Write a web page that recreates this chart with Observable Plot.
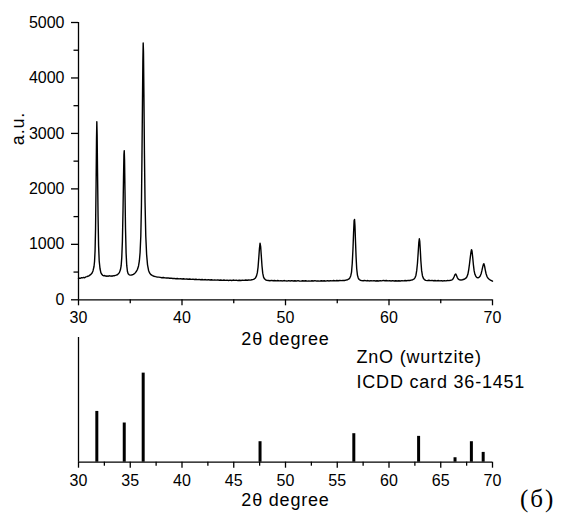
<!DOCTYPE html>
<html><head><meta charset="utf-8">
<script src="https://cdn.jsdelivr.net/npm/d3@7"></script>
<script src="https://cdn.jsdelivr.net/npm/@observablehq/plot@0.6"></script>
<style>
body{margin:0;background:#fff;}
#wrap{position:relative;width:564px;height:517px;font-family:"Liberation Sans",Arial,sans-serif;}
#top,#bottom{position:absolute;left:0;}
#top{top:0}
#bottom{top:320px}
#tag{position:absolute;left:520px;top:486px;font-family:"Liberation Serif","Times New Roman",serif;font-size:25px;letter-spacing:2px;color:#000;line-height:1;}
</style></head>
<body><div id="wrap"><div id="top"></div><div id="bottom"></div><div id="tag">(б)</div></div>
<script>
// Measured XRD pattern (2θ, counts)
const angles = [
30.0,30.1,30.2,30.3,30.4,30.5,30.6,30.7,30.8,30.9,31.0,31.1,31.2,31.3,31.4,31.5,
31.55,31.6,31.65,31.7,31.74,31.77,31.8,31.84,31.89,31.94,32.0,32.08,32.16,32.25,
32.35,32.45,32.55,32.65,32.75,32.85,32.95,33.05,33.15,33.25,33.35,33.45,33.55,33.65,33.75,33.85,33.95,
34.05,34.12,34.18,34.24,34.3,34.35,34.39,34.42,34.45,34.49,34.54,34.6,34.66,34.73,34.8,34.9,
35.0,35.1,35.2,35.3,35.4,35.5,35.6,35.7,35.8,35.88,35.95,36.02,36.08,36.13,36.18,36.22,36.25,36.28,36.32,36.37,36.43,36.5,36.58,36.67,36.77,36.88,
37.0,37.15,37.3,37.45,37.6,37.75,37.9,38.05,38.2,38.35,38.5,38.65,38.8,38.95,39.1,39.25,39.4,39.55,39.7,39.85,
40.0,40.15,40.3,40.45,40.6,40.75,40.9,41.05,41.2,41.35,41.5,41.65,41.8,41.95,42.1,42.25,42.4,42.55,42.7,42.85,
43.0,43.15,43.3,43.45,43.6,43.75,43.9,44.05,44.2,44.35,44.5,44.65,44.8,44.95,45.1,45.25,45.4,45.55,45.7,45.85,
46.0,46.15,46.3,46.45,46.6,46.75,46.9,47.0,47.1,47.2,47.28,47.35,47.42,47.48,47.54,47.6,47.66,47.73,47.8,47.88,47.97,
48.07,48.2,48.35,48.5,48.65,48.8,48.95,49.1,49.25,49.4,49.55,49.7,49.85,
50.0,50.15,50.3,50.45,50.6,50.75,50.9,51.05,51.2,51.35,51.5,51.65,51.8,51.95,52.1,52.25,52.4,52.55,52.7,52.85,
53.0,53.15,53.3,53.45,53.6,53.75,53.9,54.05,54.2,54.35,54.5,54.65,54.8,54.95,55.1,55.25,55.4,55.55,55.7,55.85,
56.0,56.1,56.2,56.3,56.38,56.45,56.52,56.58,56.63,56.67,56.71,56.76,56.82,56.88,56.95,
57.03,57.12,57.22,57.35,57.5,57.65,57.8,57.95,58.1,58.25,58.4,58.55,58.7,58.85,
59.0,59.15,59.3,59.45,59.6,59.75,59.9,60.05,60.2,60.35,60.5,60.65,60.8,60.95,61.1,61.25,61.4,61.55,61.7,61.85,
62.0,62.15,62.3,62.42,62.52,62.6,62.68,62.75,62.82,62.88,62.93,62.97,63.02,63.08,63.15,63.23,63.32,63.42,63.55,63.7,63.85,
64.0,64.15,64.3,64.45,64.6,64.75,64.9,65.05,65.2,65.35,65.5,65.65,65.8,65.95,
66.1,66.2,66.3,66.38,66.45,66.52,66.6,66.7,66.82,66.95,67.1,67.25,67.4,67.52,67.62,67.7,67.78,67.85,67.92,67.97,
68.02,68.08,68.15,68.22,68.3,68.4,68.5,68.6,68.7,68.8,68.9,68.98,69.05,69.12,69.17,69.23,69.3,69.38,69.47,69.57,69.68,69.8,69.9,70.0
];
const counts = [
385,392,388,400,396,405,398,412,418,425,432,445,458,480,520,600,
690,880,1300,2100,2900,3210,2980,2300,1500,980,700,560,490,460,
440,432,438,425,430,422,434,426,430,424,436,432,440,445,452,470,490,
540,610,760,1050,1600,2200,2620,2690,2520,1980,1300,840,620,510,468,450,
445,448,452,460,470,490,515,550,610,700,850,1150,1700,2550,3550,4320,4630,4470,3700,2650,1750,1150,820,630,530,480,
452,436,425,418,412,408,404,398,402,395,392,396,388,390,384,386,380,384,378,382,
376,379,372,376,370,374,368,372,366,370,364,368,362,367,360,365,358,363,357,361,
355,360,354,359,352,357,351,356,350,355,349,354,348,356,350,354,347,352,348,355,
350,356,352,358,355,362,368,378,395,430,490,590,760,920,1020,960,800,610,480,410,378,
360,352,348,344,350,343,347,341,348,342,346,340,347,
342,338,345,340,346,339,344,338,345,340,336,343,338,344,337,342,336,343,339,345,
338,342,336,344,339,343,337,345,340,346,341,347,342,348,343,349,345,351,348,356,
362,372,390,430,500,660,920,1220,1430,1450,1340,1070,770,560,445,
392,366,352,346,343,349,342,347,340,346,341,345,339,344,
340,346,341,350,344,348,342,346,340,345,339,344,338,343,340,346,341,347,344,350,
348,355,362,375,400,440,530,660,850,1030,1100,1060,910,700,530,435,388,363,350,346,352,
345,350,343,348,342,347,341,346,340,345,342,348,346,352,
360,380,420,455,465,440,400,372,360,358,362,370,385,410,460,540,650,760,860,905,
880,780,640,530,460,420,400,398,405,425,470,530,590,640,650,610,540,470,420,390,370,355,345,335
];
const pattern = angles.map((a, i) => ({angle: a, count: counts[i]}));

// Reference lines: ZnO (wurtzite), ICDD card 36-1451
const refAngles = [31.77, 34.42, 36.25, 47.54, 56.60, 62.86, 66.38, 67.96, 69.10];
const refIntensity = [57, 44, 100, 23, 32, 29, 5, 23, 11];
const refData = refAngles.map((a, i) => ({angle: a, intensity: refIntensity[i]}));

// Axis ticks and texts
const xMajorTop = [30, 40, 50, 60, 70];
const xMinorTop = [35, 45, 55, 65];
const yMajorTop = [0, 1000, 2000, 3000, 4000, 5000];
const yMinorTop = [500, 1500, 2500, 3500, 4500];
const xMajorBottom = [30, 35, 40, 45, 50, 55, 60, 65, 70];
const xMinorBottom = [32.5, 37.5, 42.5, 47.5, 52.5, 57.5, 62.5, 67.5];
const xTitle = "2θ degree";
const yTitle = "a.u.";
const cardText = ["ZnO (wurtzite)\nICDD card 36-1451"];

const font = '"Liberation Sans", Arial, sans-serif';
const commonStyle = {fontFamily: font, fontSize: "16px", color: "#000", background: "none", overflow: "visible"};

const topPlot = Plot.plot({
  width: 564, height: 350,
  marginLeft: 78, marginRight: 72, marginTop: 22, marginBottom: 50.7,
  style: commonStyle,
  x: {domain: [30, 70]},
  y: {domain: [0, 5000]},
  marks: [
    Plot.axisX({ticks: xMajorTop, tickSize: 6, tickPadding: 6, tickFormat: d => String(d), label: null, strokeWidth: 1.3}),
    Plot.axisX({ticks: xMinorTop, tickSize: 4, tickFormat: () => "", label: null, strokeWidth: 1.3}),
    Plot.axisY({ticks: yMajorTop, tickSize: 7, tickPadding: 7, tickFormat: d => String(d), label: null, strokeWidth: 1.3}),
    Plot.axisY({ticks: yMinorTop, tickSize: 4.5, tickFormat: () => "", label: null, strokeWidth: 1.3}),
    Plot.ruleY([0], {strokeWidth: 1.3}),
    Plot.ruleX([30], {strokeWidth: 1.3}),
    Plot.line(pattern, {x: "angle", y: "count", stroke: "#000", strokeWidth: 1.4}),
    Plot.text([xTitle], {text: d => d, frameAnchor: "bottom", lineAnchor: "middle", dy: 39, fontSize: 18}),
    Plot.text([yTitle], {text: d => d, frameAnchor: "left", lineAnchor: "middle", rotate: -90, dx: -60, dy: -16, fontSize: 18})
  ]
});

const bottomPlot = Plot.plot({
  width: 564, height: 197,
  marginLeft: 78, marginRight: 72, marginTop: 17, marginBottom: 55.3,
  style: commonStyle,
  x: {domain: [30, 70]},
  y: {domain: [0, 140], axis: null},
  marks: [
    Plot.axisX({ticks: xMajorBottom, tickSize: 6, tickPadding: 6, tickFormat: d => String(d), label: null, strokeWidth: 1.3}),
    Plot.axisX({ticks: xMinorBottom, tickSize: 4, tickFormat: () => "", label: null, strokeWidth: 1.3}),
    Plot.ruleX(refData, {x: "angle", y1: 0, y2: "intensity", stroke: "#000", strokeWidth: 3}),
    Plot.ruleY([0], {strokeWidth: 1.3}),
    Plot.ruleX([30], {strokeWidth: 1.3}),
    Plot.text([xTitle], {text: d => d, frameAnchor: "bottom", lineAnchor: "middle", dy: 38.5, fontSize: 18}),
    Plot.text(cardText, {text: d => d, frameAnchor: "top-left", dx: 278, dy: 8.5, textAnchor: "start", lineAnchor: "top", lineHeight: 1.36, fontSize: 18})
  ]
});

document.getElementById("top").appendChild(topPlot);
document.getElementById("bottom").appendChild(bottomPlot);
d3.selectAll('g[aria-label="text"] text').style("letter-spacing", "0.8px");
</script>
</body></html>
